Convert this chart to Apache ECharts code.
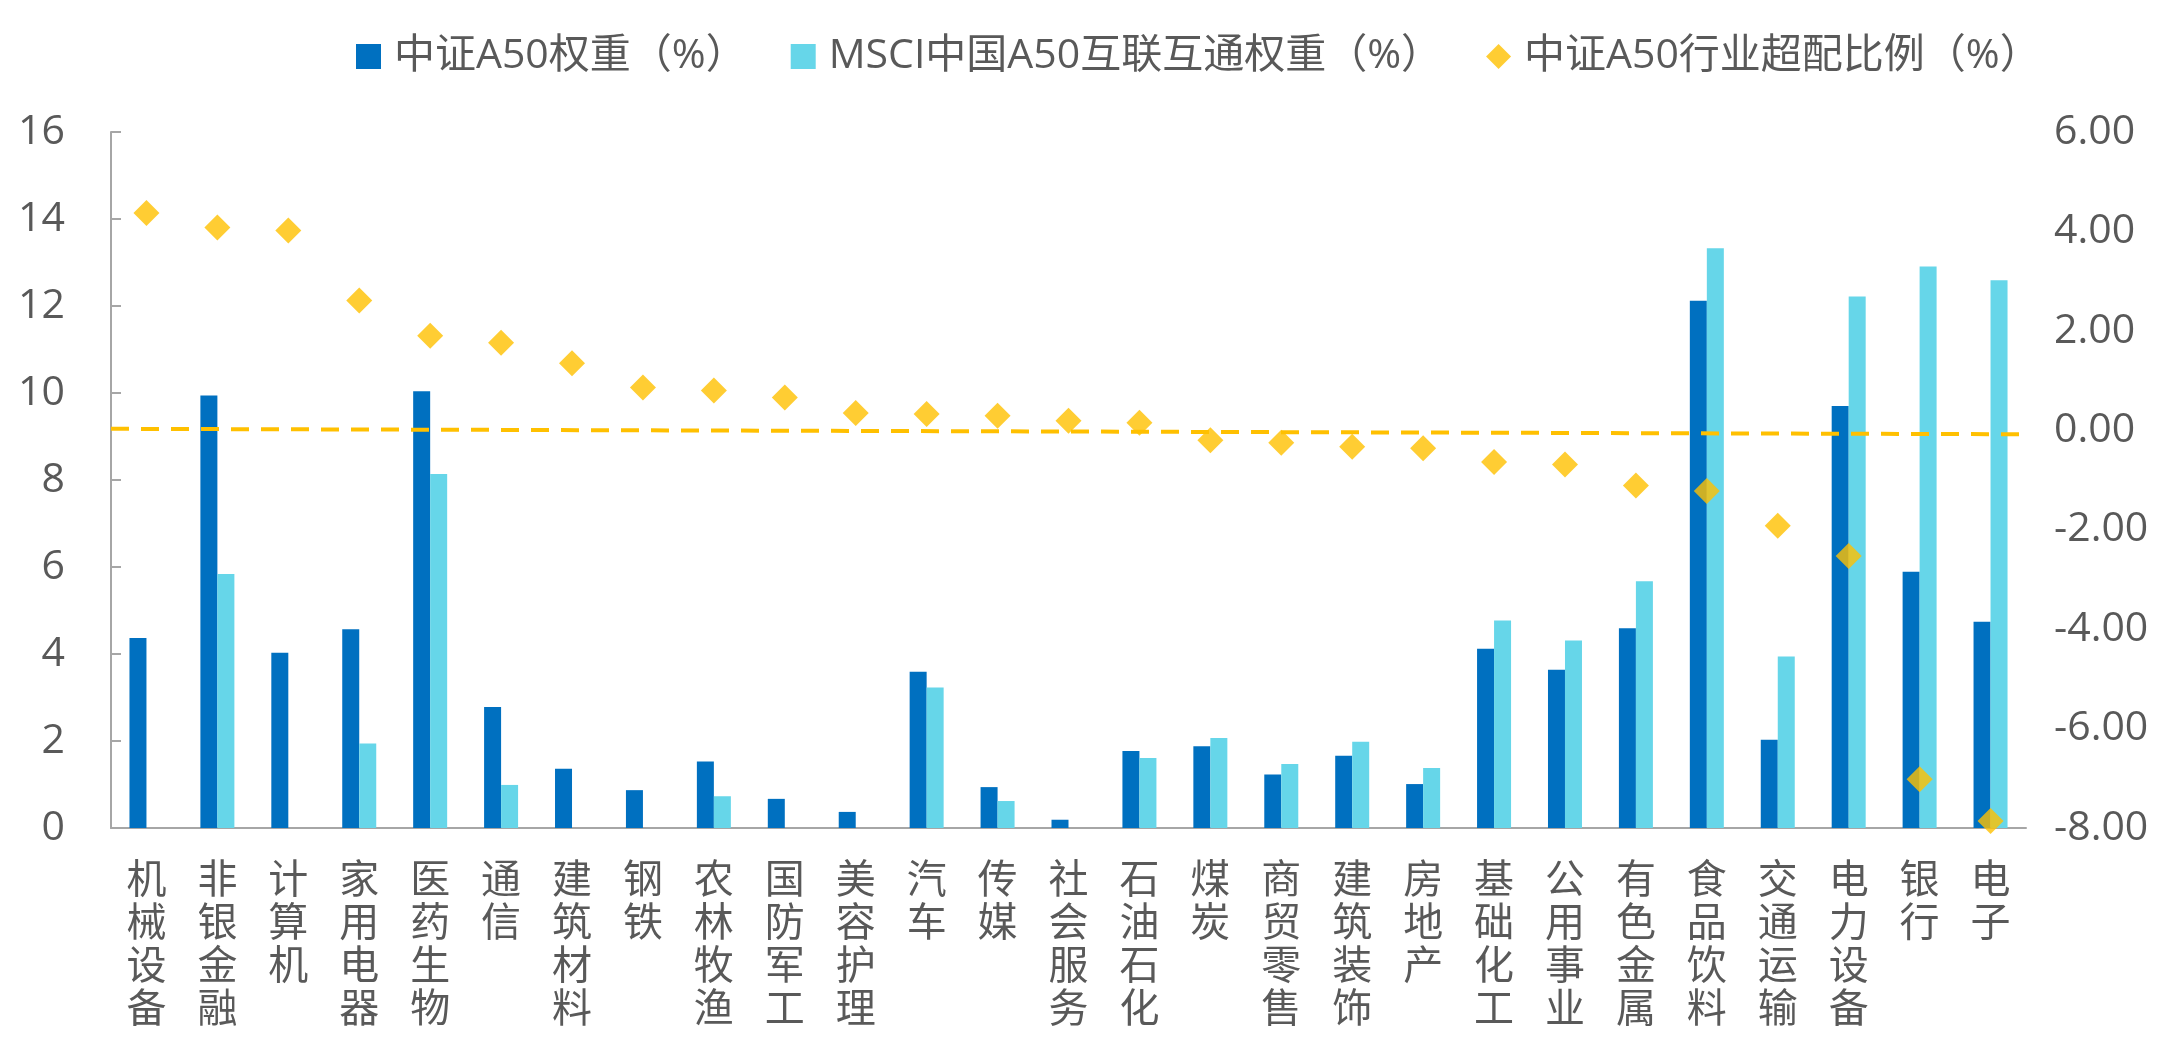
<!DOCTYPE html>
<html>
<head>
<meta charset="utf-8">
<script src="https://cdn.jsdelivr.net/npm/echarts@6/dist/echarts.min.js"></script>
<style>
html,body{margin:0;padding:0;background:#fff;}
#chart{width:2176px;height:1049px;}
</style>
</head>
<body>
<div id="chart"></div>
<script>
const categories = ['机械设备','非银金融','计算机','家用电器','医药生物','通信','建筑材料','钢铁','农林牧渔','国防军工','美容护理','汽车','传媒','社会服务','石油石化','煤炭','商贸零售','建筑装饰','房地产','基础化工','公用事业','有色金属','食品饮料','交通运输','电力设备','银行','电子'];
const csiA50Weight = [4.37,9.94,4.03,4.57,10.04,2.78,1.36,0.87,1.53,0.67,0.37,3.59,0.94,0.19,1.77,1.88,1.23,1.66,1.01,4.12,3.64,4.59,12.12,2.03,9.70,5.89,4.74];
const msciA50Weight = [0,5.84,0,1.94,8.14,0.99,0,0,0.73,0,0,3.23,0.62,0,1.61,2.07,1.47,1.98,1.38,4.77,4.31,5.67,13.33,3.94,12.22,12.91,12.59];
const overweight = [4.37,4.08,4.02,2.61,1.90,1.76,1.35,0.86,0.80,0.66,0.35,0.33,0.29,0.19,0.15,-0.20,-0.25,-0.33,-0.36,-0.64,-0.69,-1.11,-1.22,-1.92,-2.53,-7.02,-7.86];
const refLineEnds = ['start','end'];
const refLine = [0.03,-0.08];
const seriesNames = ['中证A50权重（%）','MSCI中国A50互联互通权重（%）','中证A50行业超配比例（%）'];

const FONT = "'Open Sans','Noto Sans CJK SC',sans-serif";
const chart = echarts.init(document.getElementById('chart'));
chart.setOption({
  animation:false,
  backgroundColor:'#ffffff',
  legend:{
    left:351, top:31,
    itemWidth:25, itemHeight:25, itemGap:44,
    textStyle:{fontSize:41,color:'#595959',fontFamily:FONT,padding:[0,0,0,8]},
    data:[
      {name:seriesNames[0],icon:'rect'},
      {name:seriesNames[1],icon:'rect'},
      {name:seriesNames[2],icon:'path://M10,0L20,10L10,20L0,10Z'}
    ]
  },
  grid:{left:111,right:150,top:132,bottom:221},
  xAxis:[
    {
      type:'category', data:categories,
      axisLine:{lineStyle:{color:'#A6A6A6',width:2}},
      axisTick:{show:false},
      axisLabel:{
        color:'#595959',fontSize:40,lineHeight:43,fontFamily:FONT,margin:32,interval:0,
        formatter:v=>v.split('').join('\n')
      }
    },
    {
      type:'category', data:refLineEnds, boundaryGap:false, show:false
    }
  ],
  yAxis:[
    {
      type:'value',min:0,max:16,interval:2,
      axisLine:{show:true,lineStyle:{color:'#A6A6A6',width:2}},
      axisTick:{show:true,inside:true,length:10,lineStyle:{color:'#A6A6A6',width:2}},
      splitLine:{show:false},
      axisLabel:{color:'#595959',fontSize:41,fontFamily:FONT,margin:46}
    },
    {
      type:'value',min:-8,max:6,interval:2,
      axisLine:{show:false},axisTick:{show:false},splitLine:{show:false},
      axisLabel:{color:'#595959',fontSize:41,fontFamily:FONT,margin:28,formatter:v=>v.toFixed(2)}
    }
  ],
  series:[
    {name:seriesNames[0],type:'bar',data:csiA50Weight,barWidth:17,barGap:'0%',itemStyle:{color:'#0070C0'},z:2},
    {name:seriesNames[1],type:'bar',data:msciA50Weight,barWidth:17,barGap:'0%',itemStyle:{color:'#66D6E9'},z:2},
    {name:seriesNames[2],type:'scatter',yAxisIndex:1,data:overweight,symbol:'diamond',symbolSize:26,itemStyle:{color:'#FFC000'},z:4},
    {name:'ref',type:'line',xAxisIndex:1,yAxisIndex:1,data:refLine,symbol:'none',
     lineStyle:{color:'#FFC000',width:4,type:[18,12]},z:5}
  ]
});
</script>
</body>
</html>
